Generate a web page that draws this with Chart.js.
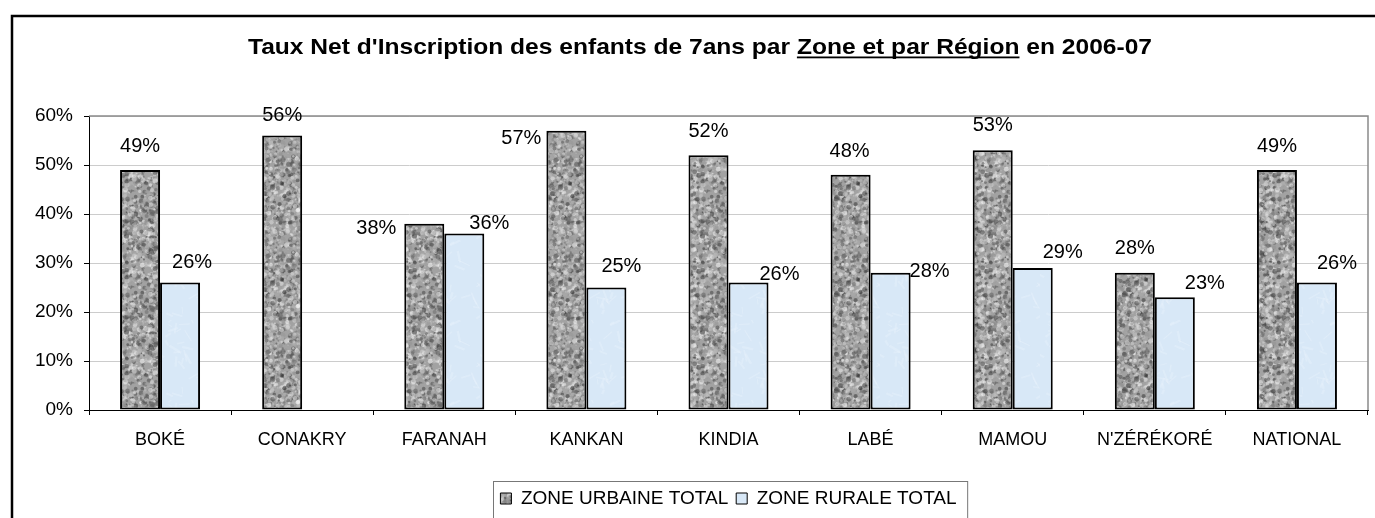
<!DOCTYPE html>
<html>
<head>
<meta charset="utf-8">
<script src="https://cdn.jsdelivr.net/npm/chart.js@4/dist/chart.umd.min.js"></script>
<style>
html,body{margin:0;padding:0;background:#fff;}
#wrap{width:1375px;height:518px;position:relative;}
</style>
</head>
<body>
<div id="wrap"><canvas id="c" width="1375" height="518"></canvas></div>
<script>
const categories = ['BOKÉ','CONAKRY','FARANAH','KANKAN','KINDIA','LABÉ','MAMOU',"N'ZÉRÉKORÉ",'NATIONAL'];
const urbaine = [49,56,38,57,52,48,53,28,49];
const rurale = [26,null,36,25,26,28,29,23,26];
const seriesNames = ['ZONE URBAINE TOTAL','ZONE RURALE TOTAL'];
const yMin = 0, yMax = 60, yStep = 10;
const titleParts = ["Taux Net d'Inscription des enfants de 7ans par ", "Zone et par Région", " en 2006-07"];
// value label nudges (px), as placed in the original
const urbLabelDx = [0,0,-48,-45,0,-1,0,0,0];
const urbLabelDy = [-23,-20,5,8,-24,-23,-25,-24,-23];
const rurLabelDx = [12,0,25,15,31,39,30,30,20];
const rurLabelDy = [-20,0,-10,-21,-8,-1,-15,-14,-19];

const FONT = '"Liberation Sans", Arial, sans-serif';

function rng(seed){ let s = seed>>>0; return function(){ s = (Math.imul(s,1664525)+1013904223)>>>0; return s/4294967296; }; }

function makeGranite(ctx){
  const N = 96;
  const c = document.createElement('canvas'); c.width = N; c.height = N;
  const g = c.getContext('2d');
  g.fillStyle = '#a2a2a2'; g.fillRect(0,0,N,N);
  const r = rng(12345);
  for (let i=0;i<1600;i++){
    const t = r();
    const v = Math.floor(t < 0.33 ? 55 + r()*60 : 140 + r()*110);
    g.fillStyle = 'rgba('+v+','+v+','+v+',0.55)';
    const x = r()*N, y = r()*N, rad = 0.7 + r()*1.9;
    for (const ox of [-N,0,N]) for (const oy of [-N,0,N]){
      g.beginPath(); g.arc(x+ox,y+oy,rad,0,Math.PI*2); g.fill();
    }
  }
  return ctx.createPattern(c,'repeat');
}
function makeIce(ctx){
  const N = 80;
  const c = document.createElement('canvas'); c.width = N; c.height = N;
  const g = c.getContext('2d');
  g.fillStyle = '#d8e8f7'; g.fillRect(0,0,N,N);
  const r = rng(987);
  for (let i=0;i<50;i++){
    const x = r()*N, y = r()*N, a = r()*Math.PI*2, l = 4 + r()*10;
    g.strokeStyle = 'rgba(236,244,252,0.35)'; g.lineWidth = 1 + r()*1.5;
    g.beginPath(); g.moveTo(x,y); g.lineTo(x+Math.cos(a)*l, y+Math.sin(a)*l); g.stroke();
  }
  return ctx.createPattern(c,'repeat');
}

const canvas = document.getElementById('c');
const ctx0 = canvas.getContext('2d');
const granite = makeGranite(ctx0);
const ice = makeIce(ctx0);

const decor = {
  id: 'decor',
  beforeDraw(chart){
    const ctx = chart.ctx;
    ctx.save();
    ctx.fillStyle = '#fff'; ctx.fillRect(0,0,chart.width,chart.height);
    ctx.strokeStyle = '#000'; ctx.lineWidth = 2.5;
    ctx.beginPath(); ctx.moveTo(12, chart.height+5); ctx.lineTo(12,16); ctx.lineTo(chart.width+5,16); ctx.stroke();
    ctx.restore();
  },
  beforeDatasetsDraw(chart){
    const ctx = chart.ctx, a = chart.chartArea;
    ctx.save();
    ctx.strokeStyle = '#8a8a8a'; ctx.lineWidth = 1.5;
    ctx.beginPath(); ctx.moveTo(a.left, a.top); ctx.lineTo(a.right, a.top); ctx.lineTo(a.right, a.bottom); ctx.stroke();
    ctx.restore();
  },
  afterDraw(chart){
    const ctx = chart.ctx;
    ctx.save();
    // title
    ctx.font = 'bold 22px ' + FONT;
    ctx.fillStyle = '#000'; ctx.textBaseline = 'alphabetic'; ctx.textAlign = 'left';
    const ws = titleParts.map(t => ctx.measureText(t).width);
    const total = ws.reduce((s,w)=>s+w,0);
    const target = 904, sx = target / total;
    ctx.save();
    ctx.translate(700 - target/2, 0);
    ctx.scale(sx, 1);
    let x = 0;
    const by = 54;
    titleParts.forEach((t,i) => {
      ctx.fillText(t, x, by);
      if (i === 1){ ctx.fillRect(x, by+2.5, ws[i], 1.8); }
      x += ws[i];
    });
    ctx.restore();
    // value labels
    ctx.font = '20px ' + FONT;
    ctx.fillStyle = '#000';
    ctx.textAlign = 'center'; ctx.textBaseline = 'middle';
    const offs = [[urbLabelDx,urbLabelDy],[rurLabelDx,rurLabelDy]];
    chart.data.datasets.forEach((ds,d) => {
      const meta = chart.getDatasetMeta(d);
      meta.data.forEach((el,i) => {
        const v = ds.data[i];
        if (v === null || v === undefined) return;
        ctx.fillText(v + '%', el.x + offs[d][0][i], el.y + offs[d][1][i]);
      });
    });
    // legend frame
    const lg = chart.legend;
    if (lg && lg.legendHitBoxes && lg.legendHitBoxes.length){
      const hb = lg.legendHitBoxes;
      const l = hb[0].left - 7, r = hb[hb.length-1].left + hb[hb.length-1].width + 11;
      ctx.strokeStyle = '#777'; ctx.lineWidth = 1;
      ctx.strokeRect(Math.round(l)+0.5, Math.round(lg.top)+0.5, r-l, 200);
    }
    ctx.restore();
  }
};

new Chart(canvas, {
  type: 'bar',
  data: {
    labels: categories,
    datasets: [
      { label: seriesNames[0], data: urbaine, backgroundColor: granite, borderColor: '#000', borderWidth: 2, borderSkipped: false, categoryPercentage: 0.563, barPercentage: 1.0 },
      { label: seriesNames[1], data: rurale, backgroundColor: ice, borderColor: '#000', borderWidth: 2, borderSkipped: false, categoryPercentage: 0.563, barPercentage: 1.0 }
    ]
  },
  options: {
    responsive: false,
    devicePixelRatio: 1,
    animation: false,
    layout: { padding: { top: 116, left: 0, right: 7, bottom: 0 } },
    plugins: {
      title: { display: false },
      tooltip: { enabled: false },
      legend: {
        display: true,
        position: 'bottom',
        fullSize: false,
        labels: {
          font: { family: FONT, size: 19 },
          color: '#000',
          boxWidth: 11, boxHeight: 11, padding: 8,
          generateLabels(chart){
            const items = Chart.defaults.plugins.legend.labels.generateLabels(chart);
            items.forEach(it => { it.lineWidth = 1; it.strokeStyle = '#000'; });
            return items;
          }
        }
      }
    },
    scales: {
      x: {
        grid: { drawOnChartArea: false, tickLength: 5, tickColor: '#000', offset: true },
        border: { color: '#000', width: 1 },
        ticks: { font: { family: FONT, size: 18 }, color: '#000', autoSkip: false, maxRotation: 0, padding: 14 },
        afterFit(scale){ scale.height = 71; }
      },
      y: {
        min: yMin, max: yMax,
        grid: { color: '#cccccc', tickLength: 5, tickColor: '#000', lineWidth: 1 },
        border: { color: '#000', width: 1 },
        ticks: { stepSize: yStep, font: { family: FONT, size: 19 }, color: '#000', padding: 11, callback: v => v + '%' },
        afterFit(scale){ scale.width = 89; }
      }
    }
  },
  plugins: [decor]
});
</script>
</body>
</html>
